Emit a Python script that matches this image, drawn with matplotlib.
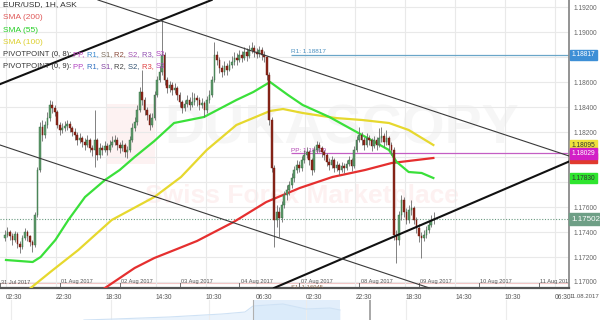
import numpy as np
import matplotlib.pyplot as plt
from matplotlib.patches import Rectangle

plt.rcParams['font.family'] = ['Liberation Sans', 'DejaVu Sans']

# EUR/USD 1H candles, x = trading hours since 31 Jul 2017 00:00 (weekend removed)
first_open = 1.17350
closes = [
    1.17380, 1.17400, 1.17368, 1.17336, 1.17384, 1.17304, 1.17280, 1.17352, 1.17400, 1.17368,
    1.17320, 1.17296, 1.17536, 1.17896, 1.18240, 1.18176, 1.18256, 1.18312, 1.18416, 1.18392,
    1.18360, 1.18256, 1.18216, 1.18232, 1.18248, 1.18264, 1.18232, 1.18200, 1.18176, 1.18136,
    1.18152, 1.18120, 1.18096, 1.18136, 1.18072, 1.18056, 1.18136, 1.18016, 1.18072, 1.18056,
    1.18088, 1.18056, 1.18096, 1.18120, 1.18136, 1.18096, 1.18072, 1.18096, 1.18040, 1.18056,
    1.18136, 1.18232, 1.18280, 1.18376, 1.18520, 1.18456, 1.18376, 1.18336, 1.18256, 1.18312,
    1.18496, 1.18616, 1.18680, 1.18816, 1.18616, 1.18552, 1.18576, 1.18536, 1.18552, 1.18496,
    1.18440, 1.18392, 1.18424, 1.18456, 1.18416, 1.18440, 1.18472, 1.18456, 1.18416, 1.18432,
    1.18376, 1.18456, 1.18496, 1.18616, 1.18816, 1.18776, 1.18712, 1.18680, 1.18728, 1.18696,
    1.18736, 1.18760, 1.18792, 1.18776, 1.18816, 1.18792, 1.18840, 1.18808, 1.18856, 1.18872,
    1.18840, 1.18824, 1.18856, 1.18816, 1.18800, 1.18656, 1.18296, 1.17912, 1.17496, 1.17560,
    1.17512, 1.17616, 1.17696, 1.17736, 1.17776, 1.17832, 1.17896, 1.17936, 1.17912, 1.17976,
    1.18016, 1.18040, 1.17976, 1.17896, 1.18056, 1.18096, 1.18072, 1.18040, 1.18016, 1.17960,
    1.17936, 1.17976, 1.17912, 1.17936, 1.17896, 1.17928, 1.17912, 1.17944, 1.17976, 1.17928,
    1.18056, 1.18136, 1.18176, 1.18136, 1.18096, 1.18152, 1.18136, 1.18088, 1.18136, 1.18096,
    1.18152, 1.18168, 1.18120, 1.18152, 1.18096, 1.18056, 1.17376, 1.17336, 1.17536, 1.17656,
    1.17560, 1.17496, 1.17576, 1.17592, 1.17496, 1.17432, 1.17368, 1.17352, 1.17376, 1.17416,
    1.17456, 1.17496, 1.17502]
highs = [
    1.17420, 1.17440, 1.17420, 1.17390, 1.17410, 1.17400, 1.17330, 1.17380, 1.17430, 1.17420,
    1.17380, 1.17340, 1.17560, 1.17920, 1.18280, 1.18300, 1.18290, 1.18360, 1.18460, 1.18450,
    1.18420, 1.18380, 1.18280, 1.18270, 1.18290, 1.18300, 1.18290, 1.18250, 1.18230, 1.18200,
    1.18190, 1.18170, 1.18150, 1.18180, 1.18150, 1.18100, 1.18376, 1.18150, 1.18110, 1.18100,
    1.18130, 1.18110, 1.18140, 1.18170, 1.18180, 1.18160, 1.18120, 1.18140, 1.18110, 1.18090,
    1.18170, 1.18270, 1.18320, 1.18420, 1.18560, 1.18696, 1.18480, 1.18400, 1.18350, 1.18350,
    1.18530, 1.18650, 1.18730, 1.19096, 1.18840, 1.18640, 1.18610, 1.18600, 1.18590, 1.18570,
    1.18520, 1.18460, 1.18460, 1.18500, 1.18480, 1.18520, 1.18510, 1.18500, 1.18480, 1.18470,
    1.18450, 1.18490, 1.18540, 1.18650, 1.18920, 1.18850, 1.18800, 1.18740, 1.18770, 1.18750,
    1.18780, 1.18810, 1.18840, 1.18830, 1.18860, 1.18850, 1.18880, 1.18870, 1.18900, 1.18920,
    1.18900, 1.18870, 1.18890, 1.18880, 1.18850, 1.18810, 1.18680, 1.18320, 1.17940, 1.17620,
    1.17600, 1.17650, 1.17730, 1.17780, 1.17810, 1.17870, 1.17930, 1.17980, 1.17970, 1.18010,
    1.18060, 1.18080, 1.18060, 1.17990, 1.18090, 1.18130, 1.18120, 1.18090, 1.18060, 1.18030,
    1.17990, 1.18010, 1.17990, 1.17970, 1.17950, 1.17960, 1.17950, 1.17980, 1.18010, 1.17990,
    1.18090, 1.18170, 1.18240, 1.18200, 1.18160, 1.18190, 1.18180, 1.18150, 1.18170, 1.18160,
    1.18230, 1.18240, 1.18190, 1.18220, 1.18170, 1.18120, 1.18080, 1.17420, 1.17570, 1.17696,
    1.17680, 1.17590, 1.17620, 1.17660, 1.17610, 1.17520, 1.17460, 1.17400, 1.17420, 1.17450,
    1.17490, 1.17540, 1.17560]
lows = [
    1.17330, 1.17360, 1.17340, 1.17300, 1.17320, 1.17270, 1.17230, 1.17260, 1.17340, 1.17330,
    1.17290, 1.17240, 1.17280, 1.17520, 1.17880, 1.18130, 1.18150, 1.18230, 1.18290, 1.18350,
    1.18330, 1.18230, 1.18180, 1.18190, 1.18210, 1.18220, 1.18200, 1.18170, 1.18140, 1.18100,
    1.18110, 1.18080, 1.18060, 1.18080, 1.18040, 1.18010, 1.17920, 1.17980, 1.17990, 1.18020,
    1.18040, 1.18020, 1.18040, 1.18080, 1.18100, 1.18060, 1.18030, 1.18050, 1.18000, 1.17990,
    1.18040, 1.18120, 1.18210, 1.18260, 1.18360, 1.18420, 1.18340, 1.18300, 1.18220, 1.18240,
    1.18300, 1.18480, 1.18600, 1.18660, 1.18580, 1.18510, 1.18520, 1.18500, 1.18510, 1.18460,
    1.18400, 1.18350, 1.18370, 1.18400, 1.18380, 1.18400, 1.18420, 1.18410, 1.18380, 1.18390,
    1.18320, 1.18350, 1.18430, 1.18480, 1.18600, 1.18740, 1.18670, 1.18640, 1.18660, 1.18660,
    1.18690, 1.18710, 1.18740, 1.18740, 1.18760, 1.18760, 1.18780, 1.18770, 1.18790, 1.18830,
    1.18800, 1.18790, 1.18800, 1.18780, 1.18760, 1.18620, 1.18260, 1.17880, 1.17280, 1.17440,
    1.17360, 1.17480, 1.17590, 1.17660, 1.17700, 1.17750, 1.17800, 1.17870, 1.17880, 1.17890,
    1.17950, 1.17990, 1.17940, 1.17860, 1.17880, 1.18030, 1.18040, 1.18000, 1.17980, 1.17930,
    1.17900, 1.17910, 1.17880, 1.17890, 1.17860, 1.17880, 1.17870, 1.17900, 1.17930, 1.17890,
    1.17910, 1.18040, 1.18120, 1.18100, 1.18060, 1.18080, 1.18100, 1.18050, 1.18070, 1.18060,
    1.18080, 1.18120, 1.18080, 1.18100, 1.18060, 1.18020, 1.17340, 1.17152, 1.17300, 1.17500,
    1.17520, 1.17460, 1.17470, 1.17540, 1.17460, 1.17390, 1.17320, 1.17192, 1.17330, 1.17350,
    1.17390, 1.17440, 1.17460]
hours = np.arange(2, 2 + len(closes))
opens = np.r_[first_open, closes[:-1]]

# moving averages (hour, price)
sma55_h = [2.4, 13.1, 16.3, 22.2, 27.4, 34.1, 42.1, 48.0, 54.0, 61.9, 69.8, 81.8,
           94.8, 101.6, 108.3, 115.5, 121.4, 132.1, 145.2, 156.0, 159.1, 163.9, 169.1, 173.8]
sma55 = [1.17176, 1.17160, 1.17200, 1.17336, 1.17496, 1.17680, 1.17816, 1.17896, 1.18000,
         1.18128, 1.18272, 1.18320, 1.18456, 1.18520, 1.18600, 1.18496, 1.18416, 1.18320,
         1.18176, 1.18056, 1.17960, 1.17880, 1.17872, 1.17832]
sma100_h = [6.4, 12.3, 20.2, 31.4, 44.8, 61.9, 72.6, 82.9, 94.8, 108.3, 113.5, 121.4,
            134.5, 145.2, 156.0, 163.9, 173.8]
sma100 = [1.16856, 1.16952, 1.17080, 1.17256, 1.17496, 1.17680, 1.17840, 1.18056, 1.18256,
          1.18368, 1.18384, 1.18352, 1.18312, 1.18296, 1.18272, 1.18216, 1.18096]
sma200_h = [34.1, 42.1, 54.0, 61.9, 71.0, 79.0, 93.7, 106.8, 120.2, 133.3, 146.4, 157.1, 173.8]
sma200 = [1.16856, 1.16952, 1.17112, 1.17192, 1.17264, 1.17328, 1.17480, 1.17640, 1.17752,
          1.17840, 1.17896, 1.17952, 1.17992]

# trend lines, two anchor points each (hour, price)
thick_up = [(5.2, 1.18624), (64.7, 1.19096)]
thick_low = [(136.1, 1.17176), (181.0, 1.17560)]
thin_up = [(39.3, 1.19256), (181.0, 1.18320)]
thin_low = [(2.4, 1.18080), (136.1, 1.17192)]

r1, pp, s1 = 1.18817, 1.18029, 1.16945
pivot_start = 116.7
last_price = 1.17502

price_tags = [(1.18817, '#3d8fd6', 'white'), (1.18095, '#efe23c', '#333333'),
              (1.17992, '#e03a2e', 'white'), (1.18029, '#d21fc6', 'white'),
              (1.17830, '#2fe52f', '#333333')]

day_hours = [0, 24, 48, 72, 96, 120, 144, 168, 192, 216]
day_labels = ['31 Jul 2017', '01 Aug 2017', '02 Aug 2017', '03 Aug 2017', '04 Aug 2017',
              '07 Aug 2017', '08 Aug 2017', '09 Aug 2017', '10 Aug 2017', '11 Aug 2017']
time_hours = [2.5, 22.5, 42.5, 62.5, 82.5, 102.5, 122.5, 142.5, 162.5, 182.5, 202.5, 222.5]
time_labels = ['02:30', '22:30', '18:30', '14:30', '10:30', '06:30',
               '02:30', '22:30', '18:30', '14:30', '10:30', '06:30']
price_ticks = [1.170, 1.172, 1.174, 1.176, 1.178, 1.180, 1.182, 1.184, 1.186, 1.188, 1.190, 1.192]
hidden_ticks = [1.178, 1.180, 1.188]   # covered by the price tags

# navigator strip below the chart
nav_days = [8.4, 11.5, 16.9, 22.2, 24.5, 25.3, 28.3, 30.6, 33.0, 34.0]
nav_level = [0, 1, 3, 6, 8, 14, 16, 11, 12, 10]

fig = plt.figure(figsize=(6, 3.2), dpi=100)
ax = fig.add_axes([0, 32 / 320, 569 / 600, 288 / 320])
ax.set_xlim(2.38, 228.2)
ax.set_ylim(1.16952, 1.19256)

# watermark
ax.add_patch(Rectangle((0.188, 0.43), 0.085, 0.21, transform=ax.transAxes,
                       color='#fdf2f2', zorder=0, lw=0))
ax.text(0.6, 0.55, 'DUKASCOPY', transform=ax.transAxes, ha='center', va='center',
        fontsize=40, fontweight='bold', color='#f6f6f6', zorder=0)
ax.text(0.53, 0.32, 'Swiss Forex Marketplace', transform=ax.transAxes, ha='center',
        va='center', fontsize=19, fontweight='bold', color='#fdf1f1', zorder=0)

# grid
ax.set_yticks(price_ticks)
ax.set_yticklabels(['' if round(v, 3) in hidden_ticks else '%.5f' % v for v in price_ticks])
ax.yaxis.tick_right()
ax.tick_params(axis='y', length=0, pad=3, labelsize=4.8, labelcolor='#666666')
ax.set_xticks(time_hours)
ax.set_xticklabels(time_labels, ha='left')
ax.tick_params(axis='x', length=0, pad=4, labelsize=4.8, labelcolor='#555555')
ax.set_xticks(day_hours, minor=True)
ax.tick_params(axis='x', which='minor', length=4, direction='in', color='#555555')
ax.grid(True, color='#e9e9e9', lw=0.8, zorder=0)
for side in ['top', 'left']:
    ax.spines[side].set_visible(False)
ax.spines['bottom'].set_color('#555555')
ax.spines['bottom'].set_linewidth(1.6)
ax.spines['right'].set_color('#8a8a8a')
ax.spines['right'].set_linewidth(1.3)

for h, lab in zip(day_hours, day_labels):
    ax.text(h + 0.6, 1.16952 + 0.00048, lab, fontsize=4.1, color='#555555',
            va='center', ha='left', clip_on=True)

# pivots and reference lines
ax.axhline(1.16995, color='#f4c4c4', lw=0.8, zorder=1)
ax.axhline(last_price, color='#6a9a80', lw=0.8, ls=(0, (1, 1.5)), zorder=2)
ax.hlines(r1, pivot_start, 228.2, color='#6aa6c8', lw=0.9, zorder=2)
ax.hlines(pp, pivot_start, 228.2, color='#c45ec4', lw=0.9, zorder=2)
ax.text(pivot_start + 0.2, r1 + 0.00004, 'R1: 1.18817', fontsize=4.6, color='#4a90c0', va='bottom')
ax.text(pivot_start + 0.2, pp + 0.00004, 'PP: 1.18029', fontsize=4.6, color='#b040b0', va='bottom')
ax.text(pivot_start + 0.2, s1 + 0.00010, 'S1: 1.16945', fontsize=4.2, color='#8a6a50',
        va='center', clip_on=True)

# moving averages
ax.plot(sma200_h, sma200, color='#e52f2f', lw=1.6, zorder=3)
ax.plot(sma100_h, sma100, color='#e6d82e', lw=1.6, zorder=3)
ax.plot(sma55_h, sma55, color='#3ae03a', lw=1.6, zorder=3)

# candles
up = np.array(closes) >= opens
body_lo = np.minimum(opens, closes)
body_h = np.maximum(np.abs(np.array(closes) - opens), 0.00002)
ax.vlines(hours, lows, highs, color='#6d6d6d', lw=0.6, zorder=4)
ax.bar(hours[up], body_h[up], bottom=body_lo[up], width=0.7, color='#5f9a6c',
       edgecolor='#2f6b3e', lw=0.3, zorder=5)
ax.bar(hours[~up], body_h[~up], bottom=body_lo[~up], width=0.7, color='#8a2619',
       edgecolor='#6e1a10', lw=0.3, zorder=5)

# trend lines
ax.axline(*thick_up, color='#111111', lw=1.5, zorder=6)
ax.axline(*thick_low, color='#111111', lw=1.5, zorder=6)
ax.axline(*thin_up, color='#3a3a3a', lw=0.8, zorder=6)
ax.axline(*thin_low, color='#3a3a3a', lw=0.8, zorder=6)

# price tags on the right axis
tr = ax.get_yaxis_transform()
for v, bg, fg in price_tags:
    ax.text(1.004, v, '%.5f' % v, transform=tr, fontsize=4.8, color=fg, va='center',
            ha='left', clip_on=False, zorder=10,
            bbox=dict(boxstyle='square,pad=0.25', fc=bg, ec=bg))
ax.text(1.004, last_price, '%.5f' % last_price, transform=tr, fontsize=5.8, color='white',
        va='center', ha='left', clip_on=False, zorder=10,
        bbox=dict(boxstyle='square,pad=0.3', fc='#6e9f86', ec='#6e9f86'))
fig.text(570 / 600, 1 - 297 / 320, '11.08.2017', fontsize=4.3, color='#555555', va='center')

# legend lines top-left
r = fig.canvas.get_renderer()


def width_of(s, size):
    a = fig.text(0, 0, 'I' + s + 'I', fontsize=size)
    b = fig.text(0, 0, 'II', fontsize=size)
    w = a.get_window_extent(r).width - b.get_window_extent(r).width
    a.remove()
    b.remove()
    return w / fig.bbox.width


def colored_row(y, parts, size=6):
    x = 3 / 600
    for s, c in parts:
        fig.text(x, y, s, fontsize=size, color=c, va='center', ha='left', zorder=12)
        x += width_of(s, size)


rows = [
    [('EUR/USD, 1H, ASK', '#333333')],
    [('SMA (200)', '#e05a5a')],
    [('SMA (55)', '#25d025')],
    [('SMA (100)', '#ddd030')],
    [('PIVOTPOINT (0, 8): ', '#333333'), ('PP, ', '#c040c0'), ('R1, ', '#3a8ad0'),
     ('S1, ', '#7a6a5a'), ('R2, ', '#8a4a3a'), ('S2, ', '#a050b0'), ('R3, ', '#9050b0'),
     ('S3', '#b040c0')],
    [('PIVOTPOINT (0, 9): ', '#333333'), ('PP, ', '#b040c0'), ('R1, ', '#3070c0'),
     ('S1, ', '#8040a0'), ('R2, ', '#444444'), ('S2, ', '#305070'), ('R3, ', '#e04040'),
     ('S3', '#b040c0')],
]
row_y = [5, 17.5, 30, 42, 54.5, 67]
row_size = [6, 6, 6, 6, 5.5, 5.5]
for y, parts, sz in zip(row_y, rows, row_size):
    colored_row(1 - y / 320, parts, sz)

# navigator
nav = fig.add_axes([0, 0, 1, 20 / 320])
nav.set_xlim(0, 60)
nav.set_ylim(0, 20)
nav.axis('off')
for d in [1.1, 11.1, 20.9, 30.6, 40.6, 50.6]:
    nav.axvline(d, color='#ececec', lw=0.8)
nav.fill_between(nav_days, 0, nav_level, color='#eaf3fc', lw=0)
nav.plot(nav_days, nav_level, color='#cfe2f5', lw=0.8)
nav.axvspan(25.3, 34.0, color='#d6e8fa', lw=0, alpha=0.7)
nav.axvline(25.3, color='#b0b0b0', lw=0.8)
nav.axvline(37.0, color='#9a9a9a', lw=1.2)

fig.savefig('out.png', dpi=100, facecolor='white')
